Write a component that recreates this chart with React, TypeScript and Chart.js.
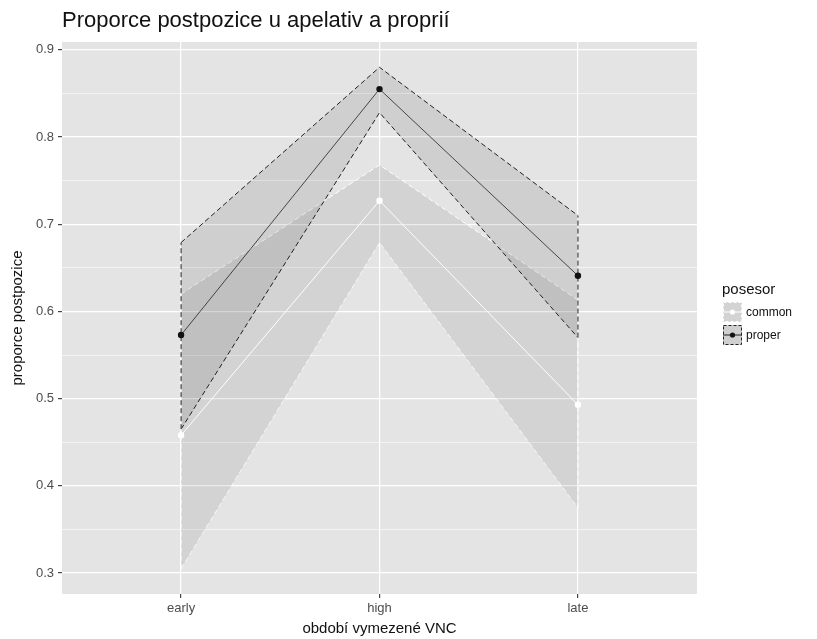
import { useEffect, useRef } from "react";
import { Chart, registerables } from "chart.js";

Chart.register(...registerables);

const periods = ["early", "high", "late"];
const commonMean = [0.458, 0.727, 0.493];
const commonLower = [0.305, 0.679, 0.375];
const commonUpper = [0.62, 0.768, 0.613];
const properMean = [0.573, 0.855, 0.641];
const properLower = [0.465, 0.828, 0.57];
const properUpper = [0.679, 0.88, 0.71];
const yMajorTicks = [0.3, 0.4, 0.5, 0.6, 0.7, 0.8, 0.9];
const yMinorTicks = [0.35, 0.45, 0.55, 0.65, 0.75, 0.85];
const legendTitle = "posesor";
const legendLabels = ["common", "proper"];
const titleText = "Proporce postpozice u apelativ a proprií";
const xTitle = "období vymezené VNC";
const yTitle = "proporce postpozice";

const FONT = '"Liberation Sans", Arial, sans-serif';
const PANEL = "#E4E4E4";
const COMMON_FILL = "rgba(0,0,0,0.075)";
const PROPER_FILL = "rgba(0,0,0,0.09)";
const DASH = [5, 3];

const pts = (arr: number[]) => arr.map((v, i) => ({ x: i + 1, y: v }));
const edge = (lo: number[], hi: number[], i: number) => [
  { x: i + 1, y: lo[i] },
  { x: i + 1, y: hi[i] },
];

const edgeDs = (lo: number[], hi: number[], i: number, color: string) => ({
  label: "edge",
  data: edge(lo, hi, i),
  borderColor: color,
  borderWidth: 1,
  borderDash: DASH,
  pointRadius: 0,
  fill: false,
});

export default function App() {
  const ref = useRef<HTMLCanvasElement | null>(null);

  useEffect(() => {
    if (!ref.current) return;
    const decor = {
      id: "decor",
      beforeDraw(chart: any) {
        const { ctx, chartArea: a } = chart;
        ctx.save();
        ctx.fillStyle = "#ffffff";
        ctx.fillRect(0, 0, chart.width, chart.height);
        ctx.fillStyle = PANEL;
        ctx.fillRect(a.left, a.top, a.right - a.left, a.bottom - a.top);
        ctx.restore();
      },
      afterDraw(chart: any) {
        const { ctx, chartArea: a } = chart;
        ctx.save();
        // title
        ctx.fillStyle = "#111";
        ctx.font = `22px ${FONT}`;
        ctx.textAlign = "left";
        ctx.textBaseline = "alphabetic";
        ctx.fillText(titleText, 62, 27);
        // x title
        ctx.textBaseline = "middle";
        ctx.font = `15px ${FONT}`;
        ctx.textAlign = "center";
        ctx.fillText(xTitle, (a.left + a.right) / 2, 629);
        // y title
        ctx.save();
        ctx.translate(18, (a.top + a.bottom) / 2);
        ctx.rotate(-Math.PI / 2);
        ctx.fillText(yTitle, 0, 0);
        ctx.restore();
        // legend
        ctx.textAlign = "left";
        ctx.font = `15px ${FONT}`;
        ctx.fillText(legendTitle, 722, 290);
        const keys = [
          { y: 302, fill: COMMON_FILL, border: "#ffffff", line: "#ffffff" },
          { y: 325, fill: PROPER_FILL, border: "#222222", line: "#111111" },
        ];
        keys.forEach((k, i) => {
          const x0 = 723, w = 19, h = 20;
          ctx.fillStyle = PANEL;
          ctx.fillRect(x0, k.y, w, h);
          ctx.fillStyle = k.fill;
          ctx.fillRect(x0, k.y, w, h);
          ctx.setLineDash([3, 2]);
          ctx.strokeStyle = k.border;
          ctx.lineWidth = 1;
          ctx.strokeRect(x0 + 0.5, k.y + 0.5, w - 1, h - 1);
          ctx.setLineDash([]);
          ctx.beginPath();
          ctx.moveTo(x0, k.y + h / 2);
          ctx.lineTo(x0 + w, k.y + h / 2);
          ctx.stroke();
          ctx.fillStyle = k.line;
          ctx.beginPath();
          ctx.arc(x0 + w / 2, k.y + h / 2, 2.6, 0, Math.PI * 2);
          ctx.fill();
          ctx.fillStyle = "#111";
          ctx.font = `12px ${FONT}`;
          ctx.textBaseline = "middle";
          ctx.fillText(legendLabels[i], x0 + w + 4, k.y + h / 2 + 1);
        });
        ctx.restore();
      },
    };

    const chart = new Chart(ref.current, {
      type: "line",
      data: {
        datasets: [
          {
            label: "common",
            data: pts(commonMean),
            borderColor: "#ffffff",
            borderWidth: 1,
            pointRadius: 3.2,
            pointBackgroundColor: "#ffffff",
            pointBorderWidth: 0,
            fill: false,
          },
          {
            label: "proper",
            data: pts(properMean),
            borderColor: "#222222",
            borderWidth: 0.8,
            pointRadius: 3.2,
            pointBackgroundColor: "#111111",
            pointBorderWidth: 0,
            fill: false,
          },
          edgeDs(properLower, properUpper, 0, "#222222"),
          edgeDs(properLower, properUpper, 2, "#222222"),
          edgeDs(commonLower, commonUpper, 0, "#ffffff"),
          edgeDs(commonLower, commonUpper, 2, "#ffffff"),
          {
            label: "proper upper",
            data: pts(properUpper),
            borderColor: "#222222",
            borderWidth: 1,
            borderDash: DASH,
            pointRadius: 0,
            backgroundColor: PROPER_FILL,
            fill: "+1",
          },
          {
            label: "proper lower",
            data: pts(properLower),
            borderColor: "#222222",
            borderWidth: 1,
            borderDash: DASH,
            pointRadius: 0,
            fill: false,
          },
          {
            label: "common upper",
            data: pts(commonUpper),
            borderColor: "#ffffff",
            borderWidth: 1,
            borderDash: DASH,
            pointRadius: 0,
            backgroundColor: COMMON_FILL,
            fill: "+1",
          },
          {
            label: "common lower",
            data: pts(commonLower),
            borderColor: "#ffffff",
            borderWidth: 1,
            borderDash: DASH,
            pointRadius: 0,
            fill: false,
          },
        ],
      },
      options: {
        animation: false,
        responsive: false,
        maintainAspectRatio: false,
        events: [],
        layout: { padding: { top: 42, right: 120, left: 0, bottom: 0 } },
        plugins: {
          legend: { display: false },
          title: { display: false },
          tooltip: { enabled: false },
        },
        scales: {
          x: {
            type: "linear",
            min: 0.4,
            max: 3.6,
            afterFit(scale: any) {
              scale.height = 45;
            },
            afterBuildTicks(scale: any) {
              scale.ticks = periods.map((_, i) => ({ value: i + 1 }));
            },
            ticks: {
              autoSkip: false,
              maxRotation: 0,
              padding: 3,
              color: "#4D4D4D",
              font: { family: FONT, size: 13 },
              callback: (v: any) => periods[Math.round(Number(v)) - 1] ?? "",
            },
            grid: {
              color: "#ffffff",
              lineWidth: 1.2,
              drawTicks: true,
              tickLength: 4,
              tickColor: "#444444",
            },
            border: { display: false },
          },
          y: {
            type: "linear",
            min: 0.276,
            max: 0.909,
            afterFit(scale: any) {
              scale.width = 62;
            },
            afterBuildTicks(scale: any) {
              const all = [...yMajorTicks, ...yMinorTicks].sort((p, q) => p - q);
              scale.ticks = all.map((v) => ({ value: v }));
            },
            ticks: {
              autoSkip: false,
              padding: 4,
              color: "#4D4D4D",
              font: { family: FONT, size: 13 },
              callback: (v: any) => {
                const n = Number(v);
                return yMajorTicks.some((t) => Math.abs(t - n) < 1e-6) ? n.toFixed(1) : "";
              },
            },
            grid: {
              color: "#ffffff",
              lineWidth: (c: any) => {
                const n = c.tick ? c.tick.value : 0;
                return yMajorTicks.some((t) => Math.abs(t - n) < 1e-6) ? 1.2 : 0.6;
              },
              drawTicks: true,
              tickLength: 4,
              tickColor: (c: any) => {
                const n = c.tick ? c.tick.value : 0;
                return yMajorTicks.some((t) => Math.abs(t - n) < 1e-6) ? "#444444" : "rgba(0,0,0,0)";
              },
            },
            border: { display: false },
          },
        },
      },
      plugins: [decor],
    } as any);

    return () => chart.destroy();
  }, []);

  return (
    <div style={{ position: "fixed", left: 0, top: 0, width: 817, height: 639, background: "#fff" }}>
      <canvas ref={ref} width={817} height={639} style={{ width: 817, height: 639, display: "block" }} />
    </div>
  );
}
